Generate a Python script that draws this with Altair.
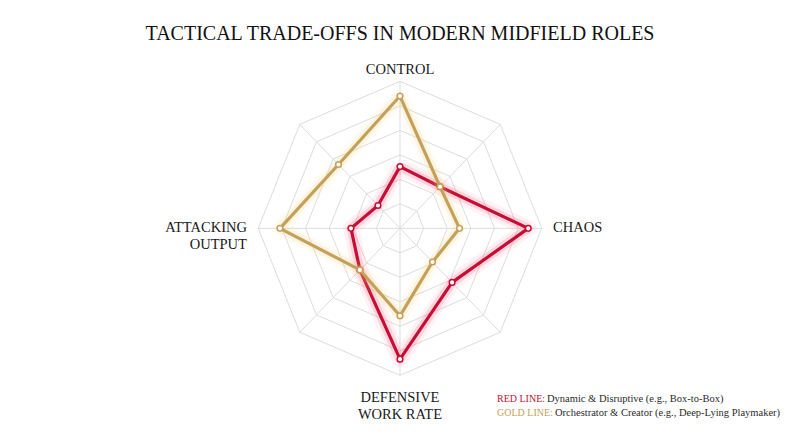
import altair as alt
import pandas as pd

# ---------------- data ----------------
spoke_index = [0, 1, 2, 3, 4, 5, 6, 7]          # clockwise from top, 45 deg apart
axis_labels = ["CONTROL", "", "CHAOS", "", "DEFENSIVE\nWORK RATE", "", "ATTACKING\nOUTPUT", ""]
red_values = [42, 40, 90.5, 52, 89, 40, 34.6, 22]
gold_values = [90, 40, 42, 32.4, 59.5, 40, 84.7, 61.4]
ring_levels = [16.67, 33.33, 50, 66.67, 83.33, 100]
series_names = ["Red", "Gold"]
legend_prefix = ["RED LINE:", "GOLD LINE:"]
legend_desc = ["Dynamic & Disruptive (e.g., Box-to-Box)",
               "Orchestrator & Creator (e.g., Deep-Lying Playmaker)"]
title_text = "TACTICAL TRADE-OFFS IN MODERN MIDFIELD ROLES"

RED = "#C40F35"
RED_GLOW = "#FF4F73"
GOLD = "#C4A15B"
GOLD_GLOW = "#F0D483"
GRID = "#DDDDDD"
FONT = "Liberation Serif"

# ---------------- tables ----------------
def closed(values, name):
    rows = [{"series": name, "k": k, "v": values[k]} for k in spoke_index]
    rows.append({"series": name, "k": 8, "v": values[0]})
    return rows

series_df = pd.DataFrame(closed(red_values, series_names[0]) + closed(gold_values, series_names[1]))
points_df = series_df[series_df["k"] < 8]
rings_df = pd.DataFrame([{"level": lv, "k": k, "v": lv} for lv in ring_levels for k in spoke_index + [8]])
spokes_df = pd.DataFrame([{"k": k, "v": ring_levels[-1]} for k in spoke_index])
labels_df = pd.DataFrame([{"k": k, "label": axis_labels[k]} for k in spoke_index if axis_labels[k]])

W, H = 784, 431
xs = alt.Scale(domain=[-276.6, 276.6], nice=False, zero=False)
ys = alt.Scale(domain=[-143.3, 149.9], nice=False, zero=False)
X = alt.X("x:Q", scale=xs, axis=None)
Y = alt.Y("y:Q", scale=ys, axis=None)


def polar(ch):
    return ch.transform_calculate(
        ang="datum.k * PI / 4",
    ).transform_calculate(
        x="datum.v * sin(datum.ang)",
        y="datum.v * cos(datum.ang)",
    )

rings = polar(alt.Chart(rings_df)).mark_line(color=GRID, strokeWidth=1).encode(
    x=X, y=Y, detail="level:N", order="k:Q")

spokes = polar(alt.Chart(spokes_df)).transform_calculate(x0="0", y0="0").mark_rule(
    color=GRID, strokeWidth=1).encode(x=X, y=Y, x2="x0:Q", y2="y0:Q")


def series_layers(name, color, glow):
    base = polar(alt.Chart(series_df).transform_filter(alt.datum.series == name))
    g1 = base.mark_line(color=glow, strokeWidth=16, opacity=0.08, strokeJoin="round").encode(x=X, y=Y, order="k:Q")
    g2 = base.mark_line(color=glow, strokeWidth=9, opacity=0.18, strokeJoin="round").encode(x=X, y=Y, order="k:Q")
    ln = base.mark_line(color=color, strokeWidth=3.2, strokeJoin="round").encode(x=X, y=Y, order="k:Q")
    pts = polar(alt.Chart(points_df).transform_filter(alt.datum.series == name)).mark_point(
        shape="circle", filled=True, fill="white", stroke=color, strokeWidth=1.5, size=32, opacity=1
    ).encode(x=X, y=Y)
    return [g1, g2, ln, pts]


def label_layer(k, r, align, baseline):
    return polar(alt.Chart(labels_df).transform_filter(alt.datum.k == k).transform_calculate(v=str(r))).mark_text(
        font=FONT, fontSize=14.5, color="#1a1a1a", align=align, baseline=baseline,
        lineBreak="\n", lineHeight=17).encode(x=X, y=Y, text="label:N")

labels = [
    label_layer(0, 108, "center", "middle"),
    label_layer(2, 108, "left", "middle"),
    label_layer(4, 110.5, "center", "top"),
    label_layer(6, 108, "right", "middle"),
]

title = alt.Chart(pd.DataFrame({"t": [title_text]})).mark_text(
    font=FONT, fontSize=20, color="#111111", align="center", baseline="alphabetic"
).encode(x=alt.value(392), y=alt.value(32), text="t:N")

legend_rows = pd.DataFrame({"prefix": legend_prefix, "desc": legend_desc, "series": series_names})
leg = []
for i, (col, desc_x) in enumerate([(RED, 539), (GOLD, 547)]):
    row = alt.Chart(legend_rows).transform_filter(alt.datum.series == series_names[i])
    yy = 391 + 14 * i
    leg.append(row.mark_text(font=FONT, fontSize=10, color=col, align="left", baseline="middle").encode(
        x=alt.value(489), y=alt.value(yy), text="prefix:N"))
    leg.append(row.mark_text(font=FONT, fontSize=10.5, color="#2a2a2a", align="left", baseline="middle").encode(
        x=alt.value(desc_x), y=alt.value(yy), text="desc:N"))

layers = [rings, spokes] + series_layers("Red", RED, RED_GLOW) + series_layers("Gold", GOLD, GOLD_GLOW) + labels + [title] + leg

chart = alt.layer(*layers).properties(
    width=W, height=H, padding=0, autosize=alt.AutoSizeParams(type="none"),
    background="white"
).configure_view(stroke=None)

chart.save("out.html", embed_options={"renderer": "svg", "actions": False})
